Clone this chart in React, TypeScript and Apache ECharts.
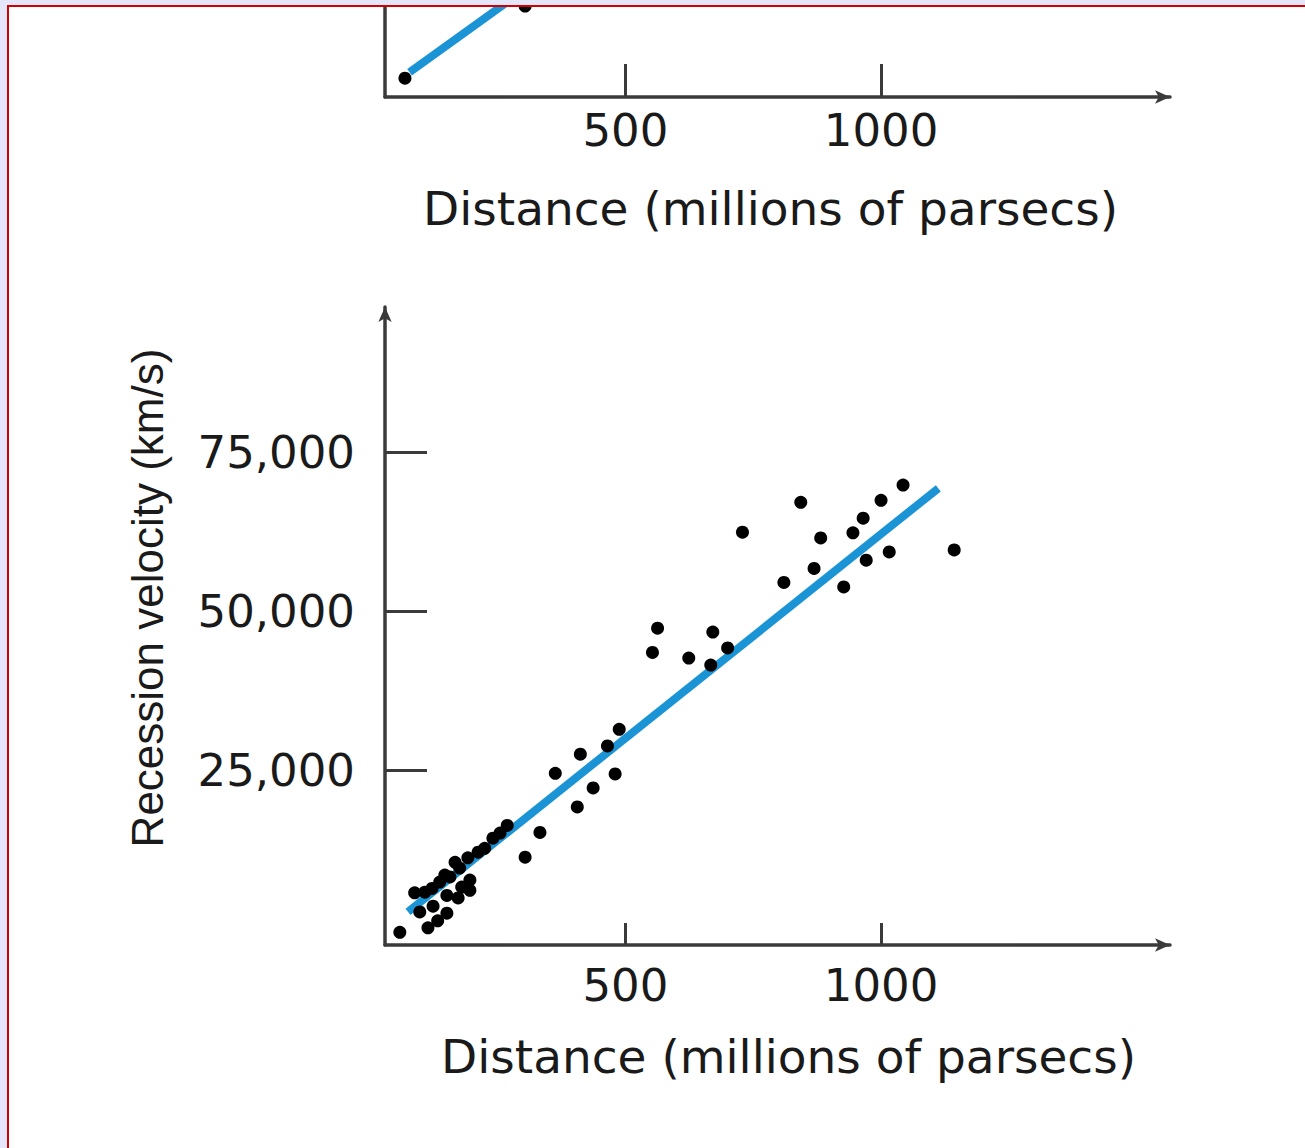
import React, { useEffect, useRef } from "react";
import * as echarts from "echarts";

// Bottom panel: distance (Mpc) and recession velocity (km/s)
const distance = [59, 114, 133, 151, 108, 137, 157, 151, 196, 196, 176, 212, 241, 269, 304, 333, 406, 437, 363, 480, 412, 465, 488, 553, 563, 624, 671, 667, 700, 729, 810, 843, 869, 882, 927, 945, 965, 971, 1000, 1016, 1043, 1143, 88, 122, 147, 167, 192, 225, 255, 98, 124, 173, 180];
const velocity = [-500, 200, 1300, 2500, 5800, 7400, 8200, 5300, 6100, 7700, 9600, 12100, 14300, 16300, 11300, 15200, 19200, 22200, 24500, 24400, 27500, 28800, 31400, 43500, 47300, 42600, 46700, 41500, 44200, 62400, 54500, 67100, 56700, 61500, 53800, 62300, 64600, 58000, 67400, 59300, 69800, 59600, 5700, 6400, 8500, 10500, 11200, 12700, 15100, 2700, 3600, 4900, 6600];
const fitDistance = [75, 1112];
const fitVelocity = [2700, 69300];

// Top panel (cropped)
const topDistance = [69, 304];
const topVelocity = [3100, 15000];
const topFitDistance = [78, 400];
const topFitVelocity = [4100, 23600];

const xTicks = [500, 1000];
const yTicks = [25000, 50000, 75000];

const axisColor = "#3a3a3a";
const textColor = "#1a1a1a";
const blue = "#1b94d6";

export default function App() {
  const ref = useRef<HTMLDivElement>(null);
  useEffect(() => {
    const chart = echarts.init(ref.current!, null, { renderer: "svg" });
    const xCommon = (tickLen: number, labelMargin: number, nameGap: number, pad: number[]) => ({
      type: "value",
      min: 30,
      max: 1565,
      axisLine: {
        onZero: false,
        lineStyle: { color: axisColor, width: 3.5 },
        symbol: ["none", "arrow"],
        symbolSize: [10, 15],
      },
      axisTick: { inside: true, length: tickLen, customValues: xTicks, lineStyle: { color: axisColor, width: 3 } },
      axisLabel: {
        customValues: xTicks,
        fontFamily: "DejaVu Sans",
        fontSize: 45,
        color: textColor,
        margin: labelMargin,
        formatter: (v: number) => String(v),
      },
      splitLine: { show: false },
      name: "Distance (millions of parsecs)",
      nameLocation: "middle",
      nameGap,
      nameTextStyle: { fontFamily: "DejaVu Sans", fontSize: 47, color: textColor, padding: pad },
    });
    const option = {
      animation: false,
      grid: [
        { left: 385, right: 135, top: 0, bottom: 1148 - 97 },
        { left: 385, right: 135, top: 307, bottom: 1148 - 945 },
      ],
      xAxis: [
        { gridIndex: 0, ...xCommon(33, 11, 88, [0, 14, 0, 0]) },
        { gridIndex: 1, ...xCommon(22, 18, 88, [0, 0, 0, 22]) },
      ],
      yAxis: [
        {
          gridIndex: 0,
          type: "value",
          min: 0,
          max: 16000,
          axisLine: { onZero: false, lineStyle: { color: axisColor, width: 3.5 } },
          axisTick: { show: false },
          axisLabel: { show: false },
          splitLine: { show: false },
        },
        {
          gridIndex: 1,
          type: "value",
          min: -2500,
          max: 97800,
          axisLine: {
            onZero: false,
            lineStyle: { color: axisColor, width: 3.5 },
            symbol: ["none", "arrow"],
            symbolSize: [10, 15],
          },
          axisTick: { inside: true, length: 42, customValues: yTicks, lineStyle: { color: axisColor, width: 3 } },
          axisLabel: {
            customValues: yTicks,
            fontFamily: "DejaVu Sans",
            fontSize: 45,
            color: textColor,
            margin: 30,
            formatter: (v: number) => v.toLocaleString("en-US"),
          },
          splitLine: { show: false },
          name: "Recession velocity (km/s)",
          nameLocation: "middle",
          nameRotate: 90,
          nameGap: 216,
          nameTextStyle: { fontFamily: "Liberation Sans", fontSize: 44, color: textColor, padding: [0, 0, 0, 56] },
        },
      ],
      series: [
        {
          type: "line",
          xAxisIndex: 0,
          yAxisIndex: 0,
          data: topFitDistance.map((d, i) => [d, topFitVelocity[i]]),
          showSymbol: false,
          lineStyle: { color: blue, width: 8 },
          clip: true,
          z: 2,
        },
        {
          type: "scatter",
          xAxisIndex: 0,
          yAxisIndex: 0,
          data: topDistance.map((d, i) => [d, topVelocity[i]]),
          symbolSize: 13,
          itemStyle: { color: "#000000", opacity: 1 },
          z: 3,
        },
        {
          type: "line",
          xAxisIndex: 1,
          yAxisIndex: 1,
          data: fitDistance.map((d, i) => [d, fitVelocity[i]]),
          showSymbol: false,
          lineStyle: { color: blue, width: 8 },
          z: 2,
        },
        {
          type: "scatter",
          xAxisIndex: 1,
          yAxisIndex: 1,
          data: distance.map((d, i) => [d, velocity[i]]),
          symbolSize: 13,
          itemStyle: { color: "#000000", opacity: 1 },
          z: 3,
        },
      ],
    };
    chart.setOption(option as any);
    return () => chart.dispose();
  }, []);
  return (
    <div style={{ position: "fixed", left: 0, top: 0, width: 1305, height: 1148, background: "#e6e6fa", overflow: "hidden" }}>
      <div
        style={{
          position: "absolute",
          left: 7,
          top: 5,
          width: 1400,
          height: 1300,
          borderTop: "2px solid #d20000",
          borderLeft: "2px solid #d20000",
          background: "#ffffff",
          overflow: "hidden",
        }}
      >
        <div ref={ref} style={{ position: "absolute", left: -9, top: -7, width: 1305, height: 1148 }} />
      </div>
    </div>
  );
}
